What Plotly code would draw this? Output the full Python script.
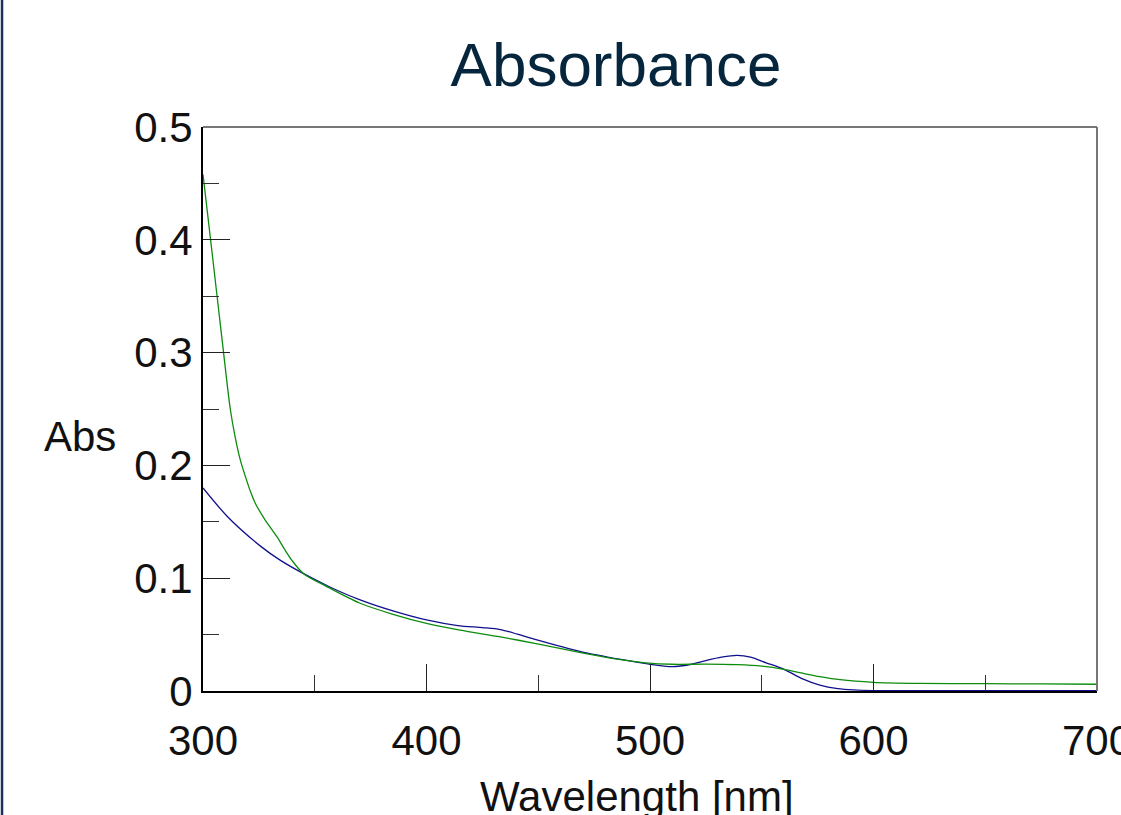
import plotly.graph_objects as go

# wavelength [nm] and absorbance
blue_nm = [300, 311, 326, 334.5, 345, 357, 370, 385, 400, 414, 425, 433, 441, 449,
           469, 487, 499, 510, 518, 525, 532, 539, 545, 552, 560, 568, 576, 584,
           591, 600, 620, 650, 700]
blue_abs = [0.180, 0.1545, 0.128, 0.116, 0.104, 0.092, 0.081, 0.071, 0.063, 0.058,
            0.0562, 0.0545, 0.0502, 0.0455, 0.035, 0.028, 0.024, 0.0216, 0.0235, 0.027,
            0.030, 0.0316, 0.030, 0.025, 0.0192, 0.011, 0.0053, 0.0022, 0.001, 0.0004,
            0.0003, 0.0003, 0.0003]

green_nm = [300, 303.4, 306.3, 309.2, 312.2, 314.5, 316.8, 319, 321.2, 323.5, 327.7,
            333, 336.7, 339.7, 345, 355, 370, 385, 400, 415, 433, 449, 469, 486, 498,
            510, 525, 539, 550, 560, 570, 576, 585, 600, 620, 650, 675, 700]
green_abs = [0.458, 0.40, 0.35, 0.30, 0.25, 0.224, 0.204, 0.19, 0.177, 0.166, 0.152,
             0.137, 0.125, 0.116, 0.104, 0.093, 0.078, 0.068, 0.060, 0.054, 0.048,
             0.042, 0.034, 0.028, 0.025, 0.0237, 0.0238, 0.0233, 0.022, 0.0192, 0.015,
             0.0127, 0.010, 0.0077, 0.0068, 0.0065, 0.0063, 0.006]

x_ticks = [300, 400, 500, 600, 700]
y_ticks = [0, 0.1, 0.2, 0.3, 0.4, 0.5]
y_tick_text = ["0", "0.1", "0.2", "0.3", "0.4", "0.5"]

FONT = "Liberation Sans, Arial, sans-serif"

fig = go.Figure()
fig.add_trace(go.Scatter(x=blue_nm, y=blue_abs, mode="lines",
                         line=dict(color="#10108c", width=1.3, shape="spline", smoothing=0.8)))
fig.add_trace(go.Scatter(x=green_nm, y=green_abs, mode="lines",
                         line=dict(color="#0c8c0c", width=1.3, shape="spline", smoothing=0.8)))

fig.update_layout(
    width=1121,
    height=815,
    margin=dict(l=203, r=24, t=127, b=124),
    paper_bgcolor="white",
    plot_bgcolor="white",
    showlegend=False,
    font=dict(family=FONT, size=42, color="#111111"),
    title=dict(text="Absorbance", x=616 / 1121, xref="container", xanchor="center",
               y=1 - 64 / 815, yref="container", yanchor="middle",
               font=dict(family=FONT, size=62, color="#06263d")),
    xaxis=dict(range=[300, 700], tickvals=x_ticks, ticks="inside", ticklen=27,
               tickcolor="#222222", tickwidth=1, showline=True, linecolor="black",
               linewidth=2, showgrid=False, zeroline=False, ticklabeloverflow="allow",
               automargin=False, ticklabelstandoff=12,
               minor=dict(dtick=50, ticks="inside", ticklen=16, tickcolor="#333333",
                          showgrid=False)),
    yaxis=dict(range=[0, 0.5], tickvals=y_ticks, ticktext=y_tick_text, ticks="inside",
               ticklen=27, tickcolor="#222222", tickwidth=1, showline=True,
               linecolor="black", linewidth=2, showgrid=False, zeroline=False,
               ticklabeloverflow="allow", automargin=False,
               minor=dict(dtick=0.05, ticks="inside", ticklen=16, tickcolor="#333333",
                          showgrid=False)),
    shapes=[
        dict(type="line", xref="paper", yref="paper", x0=0, x1=1, y0=1, y1=1,
             line=dict(color="#777777", width=2)),
        dict(type="line", xref="paper", yref="paper", x0=1, x1=1, y0=0, y1=1,
             line=dict(color="#777777", width=2)),
        dict(type="line", xref="paper", yref="paper", x0=-0.2248, x1=-0.2248,
             y0=-0.25, y1=1.25, line=dict(color="#1a2f5a", width=2.5)),
    ],
    annotations=[
        dict(text="Abs", xref="paper", yref="paper", x=-0.0951, y=0.4504,
             xanchor="right", yanchor="middle", showarrow=False,
             font=dict(family=FONT, size=42, color="#111111")),
        dict(text="Wavelength [nm]", xref="paper", yref="paper", x=0.485, y=-0.142,
             xanchor="center", yanchor="top", showarrow=False,
             font=dict(family=FONT, size=42, color="#111111")),
    ],
)

# drop the default 8px body margin so the figure sits at the page's top-left corner
fig.write_html("out.html", config={"displayModeBar": False},
               post_script="document.body.style.margin = '0';")
